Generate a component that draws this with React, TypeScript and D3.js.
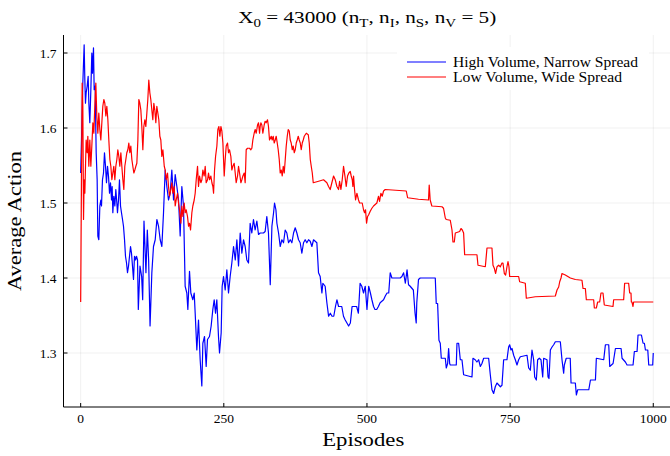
import React from 'react';
import * as d3 from 'd3';

const xTicks = [0, 250, 500, 750, 1000];
const yTicks = [1.3, 1.4, 1.5, 1.6, 1.7];
const seriesNames = ['High Volume, Narrow Spread', 'Low Volume, Wide Spread'];
const seriesColors = ['#0000ff', '#ff0000'];

const highVolumePoints: [number, number][] = [
  [0,1.54],[1.5,1.584],[3.8,1.66],[6.1,1.711],[7.3,1.664],[8.4,1.633],[9.6,1.647],[11.4,1.656],[13.1,1.669],[14.3,1.633],[16,1.607],[17.8,1.651],[19.5,1.7],[20.7,1.673],[22.4,1.707],[23.6,1.651],[25.3,1.656],[27.1,1.567],[28.8,1.531],[30,1.456],[31.7,1.451],[33.5,1.496],[35.2,1.504],[36.4,1.496],[38.1,1.531],[39.9,1.54],[41.6,1.567],[43.4,1.549],[45.1,1.527],[46.9,1.549],[48.6,1.536],[50.4,1.513],[52.1,1.527],[53.9,1.504],[55,1.522],[56.2,1.487],[57.9,1.509],[59.7,1.496],[61.4,1.518],[63.2,1.5],[64.3,1.487],[66.1,1.504],[67.8,1.531],[69.6,1.496],[71.3,1.487],[73.1,1.478],[74.8,1.469],[76.6,1.451],[78.3,1.429],[80.1,1.42],[81.8,1.407],[83.6,1.416],[85.3,1.429],[87.1,1.442],[88.8,1.433],[90.5,1.416],[92.3,1.398],[94,1.429],[95.8,1.424],[97.5,1.429],[99.3,1.424],[100.7,1.358],[103.6,1.416],[106.5,1.402],[108.3,1.371],[110.6,1.476],[114,1.407],[116.4,1.464],[118.7,1.424],[121.2,1.336],[124.3,1.407],[127.2,1.442],[130.2,1.451],[133.1,1.478],[136,1.469],[138.9,1.451],[141.8,1.442],[144.7,1.487],[147.6,1.544],[150.5,1.522],[153.4,1.504],[156.3,1.513],[159.2,1.544],[162.2,1.504],[165.1,1.538],[168,1.522],[170.9,1.504],[173.8,1.456],[176.7,1.522],[179.6,1.496],[182.5,1.389],[185.4,1.38],[187.2,1.358],[190.1,1.409],[192.4,1.38],[195.9,1.371],[198.3,1.38],[200,1.353],[202.9,1.304],[205.8,1.344],[208.7,1.291],[211.6,1.256],[213.4,1.313],[216.3,1.322],[219.2,1.282],[221.5,1.318],[225,1.322],[227.9,1.336],[230.8,1.358],[233.2,1.371],[235.5,1.353],[237.8,1.371],[240.7,1.322],[242.5,1.3],[245.4,1.327],[247.1,1.389],[249.5,1.402],[252.4,1.384],[255.3,1.411],[258.2,1.38],[261.1,1.402],[264,1.42],[267,1.442],[270,1.424],[272.8,1.451],[275.7,1.416],[278.6,1.46],[281.5,1.433],[284.4,1.451],[287.3,1.442],[290.2,1.424],[293.1,1.42],[296,1.473],[298.9,1.46],[301.8,1.478],[304.7,1.464],[307.7,1.476],[310.6,1.458],[313.5,1.46],[319.3,1.46],[322.2,1.462],[325.1,1.482],[328,1.46],[331.1,1.391],[334,1.469],[336.9,1.487],[338.6,1.5],[341,1.491],[342.7,1.473],[345.6,1.46],[348.5,1.442],[351.4,1.451],[354.3,1.447],[357.2,1.464],[360.1,1.46],[363,1.447],[366,1.451],[368.9,1.447],[371.8,1.46],[374.7,1.467],[377.6,1.46],[380.5,1.451],[383.4,1.447],[386.3,1.433],[389.2,1.447],[392.1,1.451],[395,1.447],[398,1.451],[400.9,1.449],[403.8,1.442],[406.7,1.451],[409.6,1.449],[412.5,1.447],[415.4,1.407],[418.3,1.402],[421.3,1.38],[423,1.393],[427,1.389],[430,1.367],[433,1.349],[436,1.353],[439,1.349],[442,1.349],[445,1.362],[447.5,1.371],[450.4,1.362],[456,1.362],[459,1.349],[462,1.344],[465,1.34],[468,1.336],[471,1.34],[474,1.362],[482,1.362],[485,1.353],[488,1.393],[491,1.389],[494,1.38],[497,1.389],[500,1.358],[503,1.389],[506,1.38],[508.6,1.371],[511.5,1.362],[514,1.358],[517,1.358],[520,1.362],[523,1.367],[529,1.371],[532,1.376],[535,1.38],[538,1.38],[540.6,1.407],[543.5,1.4],[558,1.4],[561,1.402],[564,1.407],[567,1.393],[570,1.411],[572.6,1.391],[575.5,1.389],[581,1.384],[584,1.353],[586,1.34],[587,1.367],[590,1.398],[593,1.4],[619.3,1.4],[621,1.366],[623.4,1.366],[625.7,1.317],[628,1.313],[629.8,1.293],[636.8,1.293],[638.5,1.28],[640.9,1.286],[642.6,1.306],[644.4,1.286],[645.5,1.284],[656,1.284],[657.2,1.313],[660.1,1.313],[663,1.291],[665.9,1.291],[668.8,1.271],[683.4,1.268],[685.1,1.293],[689,1.291],[692,1.288],[695,1.291],[698,1.282],[700.8,1.286],[703.8,1.293],[712.5,1.293],[715.4,1.271],[718.3,1.251],[721.2,1.246],[724.1,1.255],[727,1.26],[733,1.255],[735.8,1.257],[738.7,1.291],[744.5,1.291],[747.4,1.308],[749.2,1.311],[751.5,1.304],[753.3,1.306],[756.2,1.297],[759.1,1.291],[762,1.284],[764.9,1.291],[767.8,1.295],[779.5,1.297],[782.4,1.28],[785.3,1.277],[788.2,1.304],[791.1,1.291],[792.9,1.268],[795.8,1.264],[798.1,1.291],[801,1.293],[803.9,1.291],[806.9,1.268],[808.6,1.293],[814.4,1.291],[816.2,1.268],[817.9,1.266],[820.3,1.304],[823.2,1.308],[826.1,1.311],[829,1.315],[837.7,1.315],[840.6,1.291],[843.5,1.273],[844.7,1.284],[848,1.293],[855,1.293],[856.4,1.26],[863.9,1.26],[865.7,1.244],[868,1.251],[887.4,1.251],[890.3,1.264],[899,1.264],[900.6,1.293],[913.5,1.291],[916.4,1.311],[922.2,1.311],[924,1.282],[929.8,1.286],[933.9,1.306],[943.8,1.306],[945.5,1.293],[951.3,1.288],[954.2,1.284],[964.7,1.284],[967,1.302],[971.7,1.302],[973.4,1.324],[979.3,1.324],[982.2,1.313],[984.5,1.313],[986.3,1.304],[990.4,1.304],[992.1,1.284],[999,1.284],[1000,1.3]
];

const lowVolumePoints: [number, number][] = [
  [0,1.368],[2.6,1.66],[3.8,1.629],[5,1.478],[6.1,1.531],[7.3,1.513],[9.6,1.584],[11.4,1.567],[12.5,1.589],[14.3,1.549],[16,1.584],[17.8,1.549],[19.5,1.576],[21.3,1.607],[23,1.593],[24.7,1.629],[26.5,1.66],[28.2,1.616],[30,1.593],[31.7,1.62],[33.5,1.598],[35.2,1.584],[37,1.607],[38.7,1.629],[40.5,1.638],[42.2,1.633],[44,1.616],[45.7,1.629],[47.5,1.611],[49.2,1.584],[51,1.558],[52.7,1.549],[54.5,1.531],[56.2,1.54],[57.9,1.549],[59.7,1.531],[61.4,1.549],[63.2,1.558],[64.9,1.571],[66.7,1.562],[68.4,1.549],[70.2,1.567],[71.9,1.549],[73.7,1.531],[75.4,1.518],[77.1,1.549],[78.9,1.558],[80.6,1.567],[82.4,1.571],[84.1,1.58],[85.9,1.567],[87.6,1.576],[89.4,1.558],[91.1,1.549],[92.9,1.54],[94.6,1.544],[96.4,1.549],[98.1,1.553],[99.9,1.584],[101.6,1.638],[103.3,1.633],[105.1,1.624],[106.8,1.602],[108.6,1.571],[110.3,1.602],[112.1,1.611],[113.8,1.602],[115.6,1.62],[117.3,1.638],[119,1.664],[120.8,1.647],[122.5,1.638],[124.3,1.624],[126,1.611],[127.8,1.633],[129.5,1.624],[131.3,1.607],[133,1.629],[134.8,1.62],[136.5,1.611],[138.3,1.589],[140,1.584],[141.8,1.562],[143.6,1.571],[146,1.549],[147.6,1.544],[149.4,1.531],[151.7,1.54],[153.4,1.522],[155.2,1.509],[157.5,1.518],[159.2,1.527],[161,1.513],[163.3,1.522],[165.1,1.496],[166.8,1.504],[169.2,1.513],[170.9,1.5],[172.6,1.491],[175,1.473],[176.7,1.496],[178.5,1.482],[180.8,1.5],[182.5,1.487],[184.3,1.491],[186.6,1.482],[188.4,1.469],[190.1,1.473],[191.9,1.464],[194.2,1.487],[195.9,1.496],[198.3,1.504],[200,1.513],[201.8,1.531],[204.1,1.549],[205.8,1.522],[207.6,1.536],[209.9,1.527],[211.7,1.531],[213.4,1.544],[215.7,1.536],[217.5,1.549],[219.2,1.527],[221.6,1.531],[223.3,1.54],[225.1,1.531],[227.4,1.536],[229.2,1.527],[230.9,1.522],[232.1,1.513],[233.8,1.544],[235.6,1.562],[237.9,1.576],[239.6,1.598],[241.4,1.602],[243.1,1.589],[244.9,1.602],[246.6,1.596],[248.4,1.58],[250.7,1.536],[252.4,1.558],[254.2,1.576],[256.5,1.58],[258.2,1.567],[260,1.571],[262.3,1.562],[264,1.544],[265.8,1.549],[268.1,1.553],[269.9,1.54],[271.6,1.527],[274,1.536],[275.7,1.549],[277.5,1.54],[279.8,1.527],[281.5,1.531],[283.3,1.536],[285.6,1.54],[287.3,1.527],[289.1,1.571],[291.4,1.573],[294.9,1.573],[297.2,1.571],[299,1.573],[300.7,1.584],[303,1.593],[304.8,1.598],[306.6,1.593],[308.9,1.604],[310.6,1.607],[312.4,1.593],[313.5,1.602],[314.7,1.607],[316.4,1.604],[318.2,1.593],[320.5,1.604],[322.2,1.609],[324,1.607],[326.3,1.611],[328,1.602],[329.8,1.584],[332.8,1.589],[334.5,1.584],[336.3,1.589],[338,1.58],[339.8,1.584],[341.5,1.589],[343.3,1.58],[345,1.571],[346.8,1.558],[348.5,1.54],[350.3,1.544],[352,1.536],[353.8,1.549],[355.5,1.54],[357.3,1.558],[359,1.576],[360.8,1.589],[362.5,1.598],[364.3,1.596],[366,1.584],[367.7,1.58],[369.5,1.571],[371.2,1.576],[373,1.567],[374.7,1.571],[376.5,1.58],[378.2,1.584],[380,1.589],[381.7,1.584],[383.5,1.58],[385.2,1.571],[387,1.58],[388.7,1.584],[390.5,1.589],[392.2,1.591],[394,1.593],[397.5,1.591],[399.2,1.58],[401,1.558],[402.7,1.549],[404.5,1.54],[406.2,1.527],[415.5,1.529],[424.2,1.531],[427.1,1.529],[430,1.527],[432.9,1.522],[435.8,1.518],[438.7,1.527],[441.7,1.536],[444.6,1.531],[447.5,1.522],[450.4,1.518],[452.2,1.529],[454.5,1.518],[456.8,1.531],[459.1,1.549],[461.5,1.536],[463.8,1.522],[466.1,1.536],[468.4,1.54],[470.8,1.542],[472.5,1.536],[474.3,1.531],[475.4,1.522],[476.6,1.536],[478.3,1.518],[480.1,1.504],[482.4,1.513],[485.3,1.504],[487.1,1.5],[491.7,1.5],[494,1.491],[495.8,1.487],[497.5,1.491],[499.3,1.473],[501.1,1.482],[502.8,1.484],[505.7,1.489],[508.6,1.493],[511.5,1.496],[514.4,1.498],[517.3,1.5],[520.2,1.509],[522,1.502],[524.3,1.513],[526.6,1.509],[529,1.516],[531.9,1.518],[568.6,1.516],[571,1.507],[590,1.505],[607.5,1.504],[608.7,1.524],[610.4,1.504],[613.3,1.496],[631,1.495],[633.7,1.493],[636.8,1.48],[638.4,1.478],[645.5,1.477],[648.5,1.464],[650.2,1.448],[652.5,1.448],[654.3,1.46],[661.9,1.462],[664.2,1.466],[666.5,1.464],[668.8,1.46],[670.6,1.431],[692.1,1.431],[693.9,1.417],[706.7,1.415],[709.6,1.44],[718.3,1.44],[720.1,1.417],[722.4,1.413],[724.7,1.406],[727.1,1.415],[730,1.417],[732.9,1.415],[735.8,1.42],[737.5,1.42],[739.9,1.406],[742.2,1.404],[744.5,1.415],[746.3,1.422],[748,1.415],[749.2,1.402],[764.9,1.402],[766.6,1.395],[776.5,1.393],[778.3,1.373],[794,1.375],[829,1.376],[831.9,1.384],[834.8,1.388],[836.6,1.395],[838.9,1.4],[840.6,1.406],[846.4,1.404],[855.2,1.4],[863.9,1.398],[875.5,1.397],[877.3,1.386],[881.4,1.386],[883.1,1.371],[895.9,1.371],[897.1,1.36],[900.6,1.36],[902.9,1.368],[906.4,1.368],[908.7,1.38],[912.2,1.38],[914.5,1.364],[929.7,1.362],[930.8,1.371],[948.3,1.371],[950,1.393],[957,1.393],[958.8,1.38],[961.1,1.38],[961.7,1.368],[962.8,1.368],[964.6,1.362],[965.7,1.368],[1000,1.368]
];

const W = 670;
const H = 456;
const FONT = "'Liberation Serif', 'DejaVu Serif', serif";

export default function App() {
  const left = 63.5, right = 671, top = 35, bottom = 407;
  const x = d3.scaleLinear().domain([-29.97, 1030.97]).range([left, right]);
  const y = d3.scaleLinear().domain([1.228, 1.724]).range([bottom, top]);
  const line = d3.line<[number, number]>().x(d => x(d[0])).y(d => y(d[1]));
  const series = [highVolumePoints, lowVolumePoints];
  const midX = (left + right) / 2;
  const midY = (top + bottom) / 2;
  const legendWidths = [185, 169];

  return (
    <div style={{ position: 'absolute', left: 0, top: 0, width: W, height: H, background: '#fff' }}>
      <svg width={W} height={H} style={{ display: 'block', fontFamily: FONT }}>
        <rect x={0} y={0} width={W} height={H} fill="#fff" />
        {xTicks.map(t => (
          <line key={'gx' + t} x1={x(t)} x2={x(t)} y1={top} y2={bottom} stroke="#000" strokeOpacity={0.1} strokeWidth={0.6} />
        ))}
        {yTicks.map(t => (
          <line key={'gy' + t} x1={left} x2={right} y1={y(t)} y2={y(t)} stroke="#000" strokeOpacity={0.1} strokeWidth={0.6} />
        ))}
        {series.map((s, i) => (
          <path key={'s' + i} d={line(s) || ''} fill="none" stroke={seriesColors[i]} strokeWidth={1.2} strokeLinejoin="round" />
        ))}
        <line x1={left} x2={left} y1={top} y2={bottom} stroke="#000" strokeWidth={1} />
        <line x1={left} x2={right} y1={bottom} y2={bottom} stroke="#000" strokeWidth={1} />
        {xTicks.map(t => (
          <g key={'tx' + t}>
            <line x1={x(t)} x2={x(t)} y1={bottom} y2={bottom - 4} stroke="#000" strokeWidth={1} />
            <text x={x(t)} y={bottom + 16} textAnchor="middle" fontSize={13.5} fill="#000">{t}</text>
          </g>
        ))}
        {yTicks.map(t => (
          <g key={'ty' + t}>
            <line x1={left} x2={left + 4} y1={y(t)} y2={y(t)} stroke="#000" strokeWidth={1} />
            <text x={left - 7} y={y(t) + 4.5} textAnchor="end" fontSize={13.5} fill="#000">{t.toFixed(1)}</text>
          </g>
        ))}
        <text x={midX - 4} y={bottom + 39} textAnchor="middle" fontSize={18} textLength={82} lengthAdjust="spacingAndGlyphs" fill="#000">Episodes</text>
        <text transform={`translate(21,${midY}) rotate(-90)`} textAnchor="middle" fontSize={18} textLength={140} lengthAdjust="spacingAndGlyphs" fill="#000">Average Action</text>
        <text x={midX} y={23} textAnchor="middle" fontSize={17} textLength={258} lengthAdjust="spacingAndGlyphs" fill="#000">
          X<tspan dy={4} fontSize={12}>0</tspan><tspan dy={-4}>{' = 43000 (n'}</tspan>
          <tspan dy={4} fontSize={12}>T</tspan><tspan dy={-4}>{', n'}</tspan>
          <tspan dy={4} fontSize={12}>I</tspan><tspan dy={-4}>{', n'}</tspan>
          <tspan dy={4} fontSize={12}>S</tspan><tspan dy={-4}>{', n'}</tspan>
          <tspan dy={4} fontSize={12}>V</tspan><tspan dy={-4}>{' = 5)'}</tspan>
        </text>
        <rect x={397} y={47} width={252} height={43} fill="#fff" />
        {seriesNames.map((n, i) => (
          <g key={'lg' + i}>
            <line x1={407} x2={446} y1={62 + i * 15} y2={62 + i * 15} stroke={seriesColors[i]} strokeWidth={1.2} />
            <text x={453} y={66.5 + i * 15} fontSize={14} textLength={legendWidths[i]} lengthAdjust="spacingAndGlyphs" fill="#000">{n}</text>
          </g>
        ))}
      </svg>
    </div>
  );
}
